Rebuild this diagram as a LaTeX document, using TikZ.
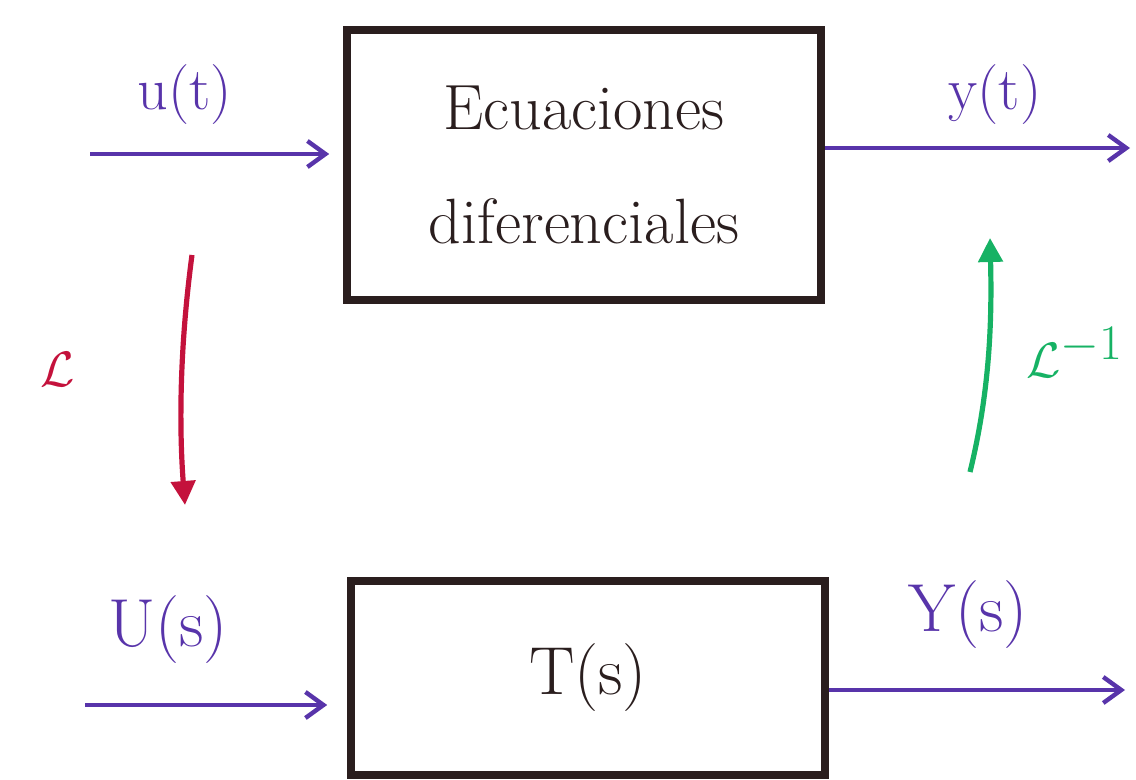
\documentclass[tikz,border=0pt]{standalone}
\usepackage{amsmath}
\usetikzlibrary{arrows.meta}
\definecolor{ink}{RGB}{88,52,170}
\definecolor{redink}{RGB}{196,18,60}
\definecolor{greenink}{RGB}{22,178,100}
\definecolor{boxink}{RGB}{42,30,30}
\begin{document}
\begin{tikzpicture}[x=0.5pt,y=-0.5pt,
  blockbox/.style={draw=boxink,line width=3.8pt,rectangle,inner sep=0pt,align=center,text=boxink},
  sig/.style={draw=ink,line width=2.4pt,-{Straight Barb[length=9pt,width=13pt,line width=2.2pt]}},
  siglabel/.style={text=ink,inner sep=0pt,font=\fontsize{30}{36}\selectfont},
  lap/.style={draw=redink,line width=2.6pt,-{Triangle[length=12pt,width=12pt]}},
  ilap/.style={draw=greenink,line width=2.6pt,-{Triangle[length=12pt,width=12pt]}}]
\useasboundingbox (0,0) rectangle (1136,780);
% blocks
\node[blockbox,minimum width=237pt,minimum height=135pt,
  font=\fontsize{32}{57}\selectfont] (ode) at (584,165) {Ecuaciones\\diferenciales};
\node[blockbox,minimum width=237pt,minimum height=97pt,
  font=\fontsize{34}{40}\selectfont] (tf) at (588,678) {T(s)};
% signal ends
\coordinate (uin) at (90,154);
\coordinate (yout) at (1130,148);
\coordinate (Uin) at (85,705);
\coordinate (Yout) at (1125,690);
% signals
\draw[sig,shorten >=7pt] (uin) -- (ode.west |- uin);
\draw[sig] (ode.east |- yout) -- (yout);
\draw[sig,shorten >=10pt] (Uin) -- (tf.west |- Uin);
\draw[sig] (tf.east |- Yout) -- (Yout);
% labels
\node[siglabel] (ul) at (185,95) {u(t)};
\node[siglabel] (yl) at (995,95) {y(t)};
\node[siglabel,font=\fontsize{34}{40}\selectfont] (Ul) at (168,630) {U(s)};
\node[siglabel,font=\fontsize{34}{40}\selectfont] (Yl) at (968,615) {Y(s)};
% transforms
\coordinate (ls) at (192,255);
\coordinate (le) at (185,505);
\coordinate (is) at (970,472);
\coordinate (ie) at (990,238);
\draw[lap] (ls) .. controls (178,360) and (180,440) .. (le);
\draw[ilap] (is) .. controls (990,390) and (992,320) .. (ie);
\node[text=redink,font=\fontsize{40}{48}\selectfont] (ll) at (58,370) {$\mathcal{L}$};
\node[text=greenink,font=\fontsize{38}{46}\selectfont] (il) at (1075,352) {$\mathcal{L}^{-1}$};
\end{tikzpicture}
\end{document}
